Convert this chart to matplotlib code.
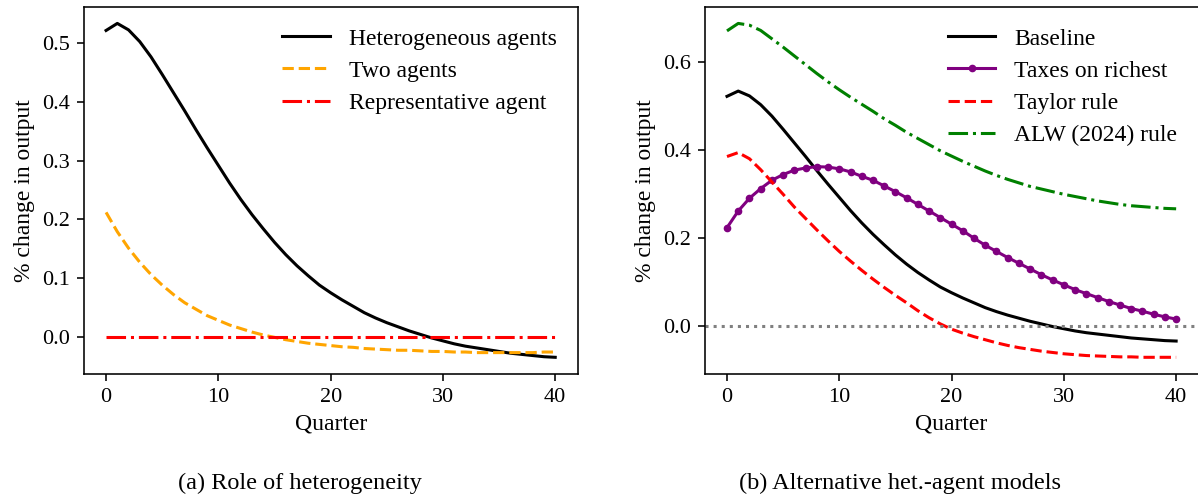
import matplotlib
matplotlib.use("Agg")
import matplotlib.pyplot as plt

plt.rcParams['font.family'] = 'serif'
plt.rcParams['font.serif'] = ['Liberation Serif', 'DejaVu Serif']
plt.rcParams['font.size'] = 16
plt.rcParams['axes.labelsize'] = 17
plt.rcParams['legend.fontsize'] = 17
plt.rcParams['axes.linewidth'] = 1.15
for ax_name in ('xtick', 'ytick'):
    plt.rcParams[ax_name + '.major.size'] = 5
    plt.rcParams[ax_name + '.major.width'] = 1.15
    plt.rcParams[ax_name + '.major.pad'] = 5
    plt.rcParams[ax_name + '.labelsize'] = 16
plt.rcParams['axes.labelpad'] = 5

quarters = list(range(41))

# heterogeneous agents / baseline
baseline = [0.522, 0.534, 0.523, 0.503, 0.477, 0.447, 0.416, 0.385, 0.353, 0.322,
            0.292, 0.262, 0.234, 0.208, 0.184, 0.161, 0.140, 0.121, 0.104, 0.088,
            0.075, 0.063, 0.052, 0.041, 0.032, 0.024, 0.017, 0.010, 0.004, -0.002,
            -0.007, -0.012, -0.016, -0.019, -0.022, -0.025, -0.028, -0.030, -0.032, -0.034,
            -0.035]
two_agents = [0.212, 0.179, 0.151, 0.127, 0.106, 0.088, 0.072, 0.058, 0.047, 0.036,
              0.028, 0.020, 0.014, 0.008, 0.003, -0.001, -0.005, -0.008, -0.011, -0.013,
              -0.015, -0.017, -0.018, -0.020, -0.021, -0.022, -0.023, -0.023, -0.024, -0.025,
              -0.025, -0.026, -0.026, -0.027, -0.027, -0.027, -0.027, -0.027, -0.027, -0.026,
              -0.026]
rep_agent = [0.0, 0.0, 0.0, 0.0, 0.0, 0.0, 0.0, 0.0, 0.0, 0.0,
             0.0, 0.0, 0.0, 0.0, 0.0, 0.0, 0.0, 0.0, 0.0, 0.0,
             0.0, 0.0, 0.0, 0.0, 0.0, 0.0, 0.0, 0.0, 0.0, 0.0,
             0.0, 0.0, 0.0, 0.0, 0.0, 0.0, 0.0, 0.0, 0.0, 0.0,
             0.0]

taxes_richest = [0.223, 0.261, 0.290, 0.312, 0.331, 0.344, 0.354, 0.359, 0.362, 0.361,
                 0.357, 0.350, 0.340, 0.331, 0.318, 0.305, 0.291, 0.276, 0.261, 0.246,
                 0.231, 0.216, 0.199, 0.183, 0.169, 0.155, 0.142, 0.129, 0.116, 0.104,
                 0.093, 0.082, 0.073, 0.064, 0.055, 0.047, 0.039, 0.033, 0.026, 0.020,
                 0.015]
taylor = [0.385, 0.394, 0.380, 0.355, 0.327, 0.299, 0.270, 0.244, 0.218, 0.193,
          0.169, 0.147, 0.126, 0.106, 0.087, 0.069, 0.052, 0.034, 0.018, 0.004,
          -0.008, -0.017, -0.025, -0.032, -0.039, -0.045, -0.050, -0.054, -0.058, -0.061,
          -0.064, -0.066, -0.068, -0.069, -0.070, -0.071, -0.071, -0.072, -0.072, -0.072,
          -0.072]
alw = [0.671, 0.688, 0.684, 0.672, 0.653, 0.634, 0.614, 0.594, 0.574, 0.555,
       0.537, 0.520, 0.504, 0.488, 0.471, 0.456, 0.440, 0.426, 0.412, 0.398,
       0.386, 0.374, 0.363, 0.352, 0.342, 0.333, 0.325, 0.317, 0.311, 0.305,
       0.299, 0.294, 0.289, 0.284, 0.280, 0.276, 0.273, 0.271, 0.269, 0.267,
       0.266]

fig = plt.figure(figsize=(11.98, 4.98), dpi=100)
ax1 = fig.add_axes([0.0698, 0.249, 0.4124, 0.7375])
ax2 = fig.add_axes([0.5881, 0.249, 0.4124, 0.7375])

lw = 2.2

# (a)
ax1.plot(quarters, baseline, color='black', lw=lw, label='Heterogeneous agents')
ax1.plot(quarters, two_agents, color='orange', lw=lw, ls='--', label='Two agents')
ax1.plot(quarters, rep_agent, color='red', lw=lw, ls='-.', label='Representative agent')
ax1.set_xlabel('Quarter')
ax1.set_ylabel('% change in output')
ax1.set_yticks([0.0, 0.1, 0.2, 0.3, 0.4, 0.5])
ax1.set_xticks([0, 10, 20, 30, 40])
ax1.legend(loc='upper right', frameon=False, labelspacing=0.45)

# (b)
ax2.plot(quarters, baseline, color='black', lw=lw, label='Baseline')
ax2.plot(quarters, taxes_richest, color='purple', lw=lw, marker='o', ms=4.5,
         label='Taxes on richest')
ax2.plot(quarters, taylor, color='red', lw=lw, ls='--', label='Taylor rule')
ax2.plot(quarters, alw, color='green', lw=lw, ls='-.', label='ALW (2024) rule')
ax2.axhline(0, color='gray', lw=lw, ls=':')
ax2.set_xlabel('Quarter')
ax2.set_ylabel('% change in output')
ax2.set_yticks([0.0, 0.2, 0.4, 0.6])
ax2.set_xticks([0, 10, 20, 30, 40])
ax2.legend(loc='upper right', frameon=False, labelspacing=0.45)

fig.text(0.25, 0.03, '(a) Role of heterogeneity', ha='center', va='center', fontsize=17.5)
fig.text(0.751, 0.03, '(b) Alternative het.-agent models', ha='center', va='center',
         fontsize=17.5)

fig.savefig('out.png', dpi=100)
